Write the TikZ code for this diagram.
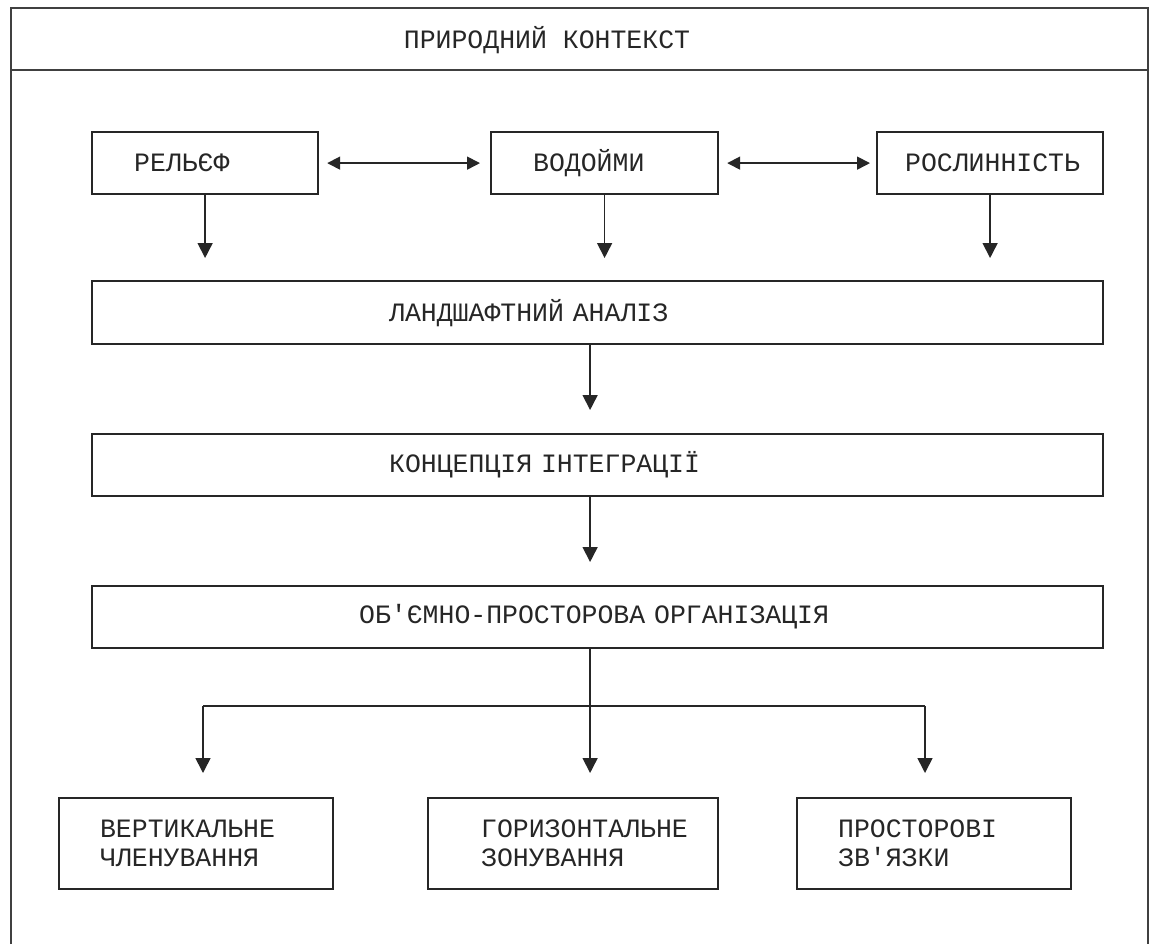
\documentclass[tikz,border=0pt]{standalone}
\usepackage{fontspec}
\newfontfamily\monoUA[Ligatures=TeXOff]{Liberation Mono}
\usetikzlibrary{arrows.meta}
\begin{document}
\begin{tikzpicture}[x=0.5pt,y=-0.5pt,
  txt/.style={font=\monoUA\fontsize{13.25}{14.5}\selectfont, text=black!85},
  box/.style={txt, draw=black!85, line width=1.1pt, rectangle, anchor=north west,
    inner xsep=0pt, inner ysep=0pt, align=left},
  frameline/.style={draw=black!75, line width=1pt},
  conn/.style={draw=black!85, line width=0.8pt},
  arr/.style={conn, -{Triangle[width=7.5pt,length=7.5pt]}},
  darr/.style={conn, {Triangle[width=6.5pt,length=6.5pt]}-{Triangle[width=6.5pt,length=6.5pt]}}
]
\useasboundingbox (0,0) rectangle (1152,944);
\fill[white] (0,0) rectangle (1152,944);

% outer frame (open at the bottom)
\draw[frameline] (10.7,944) -- (10.7,8.3) -- (1148,8.3) -- (1148,944);
\draw[frameline] (10.7,70) -- (1148,70);
\node[txt] (title) at (547,40) {ПРИРОДНИЙ КОНТЕКСТ};

% top row
\node[box, minimum width=113pt, minimum height=31pt, text width=113pt] (relief) at (91,131) {\hspace*{21pt}РЕЛЬЄФ};
\node[box, minimum width=113.5pt, minimum height=31pt, text width=113.5pt] (water) at (490,131) {\hspace*{21pt}ВОДОЙМИ};
\node[box, minimum width=113pt, minimum height=31pt, text width=113pt] (veg) at (876,131) {\hspace*{14pt}РОСЛИННІСТЬ};

% wide boxes
\node[box, minimum width=505.5pt, minimum height=31.5pt, text width=505.5pt] (land) at (91,280) {\hspace*{148.5pt}ЛАНДШАФТНИЙ АНАЛІЗ};
\node[box, minimum width=505.5pt, minimum height=31pt, text width=505.5pt] (conc) at (91,433) {\hspace*{148.5pt}КОНЦЕПЦІЯ ІНТЕГРАЦІЇ};
\node[box, minimum width=505.5pt, minimum height=31pt, text width=505.5pt] (org) at (91,585) {\hspace*{133.5pt}ОБ'ЄМНО-ПРОСТОРОВА ОРГАНІЗАЦІЯ};

% bottom row
\node[box, minimum width=137pt, minimum height=45.5pt, text width=137pt] (vert) at (58,797) {\hspace*{20.5pt}ВЕРТИКАЛЬНЕ\\\hspace*{20.5pt}ЧЛЕНУВАННЯ};
\node[box, minimum width=145pt, minimum height=45.5pt, text width=145pt] (horiz) at (427,797) {\hspace*{26.5pt}ГОРИЗОНТАЛЬНЕ\\\hspace*{26.5pt}ЗОНУВАННЯ};
\node[box, minimum width=137pt, minimum height=45.5pt, text width=137pt] (spat) at (796,797) {\hspace*{20.5pt}ПРОСТОРОВІ\\\hspace*{20.5pt}ЗВ'ЯЗКИ};

% connectors, top row
\draw[darr, shorten <=4pt, shorten >=5pt] (relief.east) -- (water.west);
\draw[darr, shorten <=4pt, shorten >=3pt] (water.east) -- (veg.west);
\draw[arr, shorten >=11pt] (relief.south) -- (relief.south |- land.north);
\draw[arr, shorten >=11pt] (water.south) -- (water.south |- land.north);
\draw[arr, shorten >=11pt] (veg.south) -- (veg.south |- land.north);

% connectors, middle
\draw[arr, shorten >=11.5pt] ([xshift=-3.75pt]land.south) -- ([xshift=-3.75pt]conc.north);
\draw[arr, shorten >=11.5pt] ([xshift=-3.75pt]conc.south) -- ([xshift=-3.75pt]org.north);

% branching to bottom row
\coordinate (oS) at ([xshift=-3.75pt]org.south);
\coordinate (bl) at (203,706);
\coordinate (bm) at (oS |- bl);
\coordinate (br) at (925,706);
\draw[conn] (bl) -- (br);
\draw[arr, shorten >=12pt] (oS) -- (oS |- horiz.north);
\draw[arr, shorten >=12pt] (bl) -- (bl |- vert.north);
\draw[arr, shorten >=12pt] (br) -- (br |- spat.north);
\end{tikzpicture}
\end{document}
